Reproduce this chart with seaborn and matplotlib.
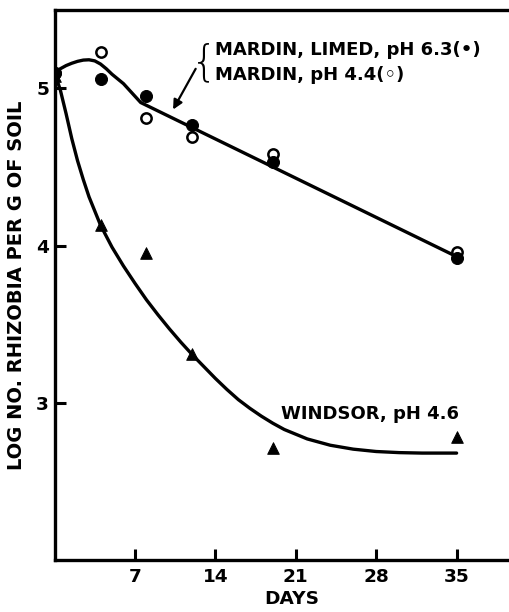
import numpy as np
import pandas as pd
import matplotlib
matplotlib.use("Agg")
import matplotlib.pyplot as plt
import seaborn as sns

# ---- data ----
days = [0, 4, 8, 12, 19, 35]
mardin_limed = [5.10, 5.06, 4.95, 4.77, 4.53, 3.92]   # filled circles, pH 6.3
mardin_acid = [5.10, 5.23, 4.81, 4.69, 4.58, 3.96]    # open circles, pH 4.4
windsor = [5.08, 4.13, 3.95, 3.31, 2.71, 2.78]        # triangles, pH 4.6

# hand-drawn fitted curves (knots)
mardin_curve_days = [0, 0.5, 1, 1.5, 2, 2.5, 3, 3.5, 4, 4.5, 5, 5.5, 6, 6.5, 7, 7.5, 35]
mardin_curve_vals = [5.10, 5.125, 5.145, 5.16, 5.172, 5.18, 5.182, 5.175, 5.155, 5.125, 5.09, 5.06, 5.03, 4.99, 4.95, 4.91, 3.93]
windsor_curve_days = [0, 0.5, 1, 1.5, 2, 2.5, 3, 3.5, 4, 5, 6, 7, 8, 9, 10, 11, 12, 13, 14, 15, 16, 17, 18, 19, 20, 22, 24, 26, 28, 30, 32, 35]
windsor_curve_vals = [5.10, 4.99, 4.84, 4.68, 4.54, 4.42, 4.31, 4.22, 4.13, 3.99, 3.87, 3.76, 3.655, 3.56, 3.47, 3.385, 3.305, 3.23, 3.155, 3.085, 3.02, 2.965, 2.915, 2.87, 2.83, 2.77, 2.73, 2.705, 2.69, 2.683, 2.68, 2.68]

x_ticks = [7, 14, 21, 28, 35]
y_ticks = [3, 4, 5]

sns.set_style("ticks", {"axes.edgecolor": "black", "text.color": "black",
                        "axes.labelcolor": "black", "xtick.color": "black", "ytick.color": "black"})
plt.rcParams['font.family'] = ['DejaVu Sans']
plt.rcParams['font.weight'] = 'bold'

fig = plt.figure(figsize=(5.10, 6.12), dpi=100)
ax = fig.add_axes([0.107, 0.085, 0.893, 0.899])

lw = 2.4
sns.lineplot(x=mardin_curve_days, y=mardin_curve_vals, ax=ax, color='black', lw=lw, sort=False, zorder=2)
sns.lineplot(x=windsor_curve_days, y=windsor_curve_vals, ax=ax, color='black', lw=lw, sort=False, zorder=2)

sns.scatterplot(x=days, y=windsor, ax=ax, marker='^', s=70, color='black', edgecolor='black', zorder=3)
sns.scatterplot(x=days, y=mardin_acid, ax=ax, marker='o', s=55, facecolor='white', edgecolor='black', linewidth=1.8, zorder=4)
sns.scatterplot(x=days, y=mardin_limed, ax=ax, marker='o', s=75, color='black', edgecolor='black', zorder=5)

ax.set_xlim(0, 39.65)
ax.set_ylim(2.0, 5.5)
ax.set_xticks(x_ticks)
ax.set_yticks(y_ticks)
ax.tick_params(direction='in', length=8, width=2.2, labelsize=13.3, colors='black')
ax.tick_params(axis='y', pad=4)
ax.tick_params(axis='x', pad=6)
for lab in ax.get_xticklabels() + ax.get_yticklabels():
    lab.set_fontweight('bold')
for side in ['left', 'bottom', 'top']:
    ax.spines[side].set_linewidth(2.4)
    ax.spines[side].set_color('black')
ax.spines['right'].set_visible(False)

ax.set_xlabel('DAYS', fontsize=13.3, fontweight='bold', color='black')
ax.xaxis.set_label_coords(0.52, -0.055)
ax.set_ylabel('LOG NO. RHIZOBIA PER G OF SOIL', fontsize=14, fontweight='bold', color='black')
ax.yaxis.set_label_coords(-0.062, 0.5)

# annotations
ax.text(13.95, 5.245, 'MARDIN, LIMED, pH 6.3(•)', fontsize=13, fontweight='bold', va='center', ha='left', color='black')
ax.text(13.95, 5.085, 'MARDIN, pH 4.4(◦)', fontsize=13, fontweight='bold', va='center', ha='left', color='black')
ax.text(13.05, 5.165, '{', fontsize=30, fontweight='light', va='center', ha='center', color='black')
ax.annotate('', xy=(10.2, 4.85), xytext=(12.4, 5.14),
            arrowprops=dict(arrowstyle='-|>', color='black', lw=1.6, mutation_scale=14))
ax.text(19.7, 2.93, 'WINDSOR, pH 4.6', fontsize=13, fontweight='bold', va='center', ha='left', color='black')

fig.savefig('out.png', dpi=100)
